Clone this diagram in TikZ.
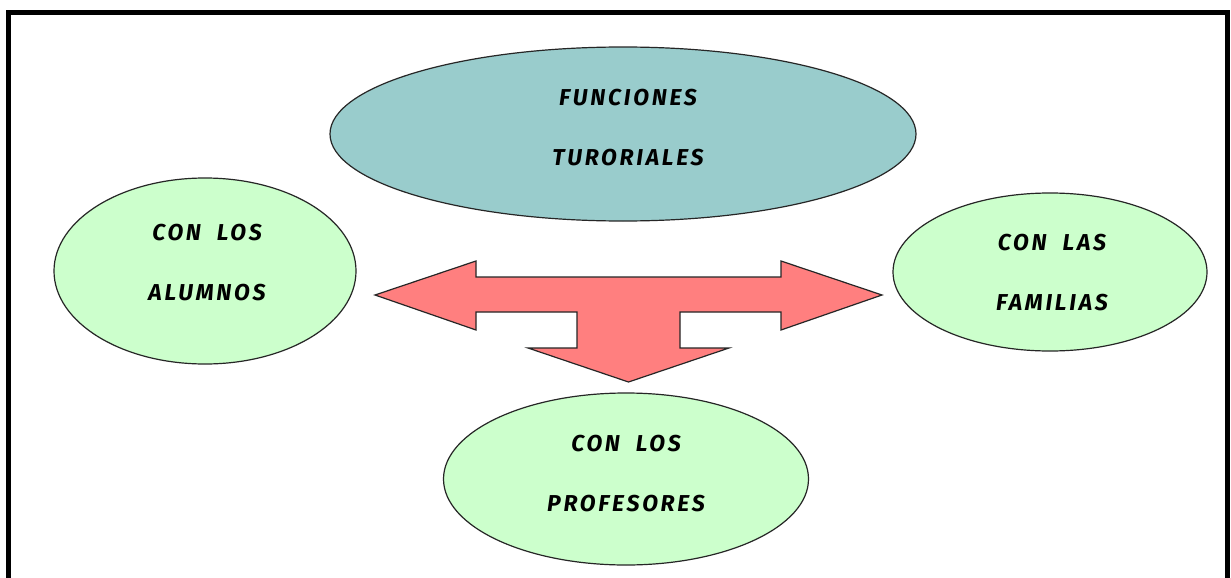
\documentclass[tikz,border=0pt]{standalone}
\usepackage{fontspec}
\setmainfont{Fira Sans}[LetterSpace=12,WordSpace=2]
\usetikzlibrary{shapes.geometric}
\definecolor{tealfill}{HTML}{99CCCC}
\definecolor{greenfill}{HTML}{CCFFCC}
\definecolor{redfill}{HTML}{FF7F7F}
\definecolor{edge}{HTML}{262626}
\tikzset{
  oval/.style={ellipse, draw=edge, line width=1.2pt, inner sep=0pt},
  lbl/.style={align=center, inner sep=0pt, text depth=0pt,
    font=\fontsize{23}{60}\selectfont\bfseries\itshape},
  frame/.style={line width=5pt, draw=black},
  bigarrow/.style={fill=redfill, draw=edge, line width=1.2pt, line join=miter}
}
\begin{document}
\begin{tikzpicture}[x=1pt,y=-1pt]
\useasboundingbox (0,0) rectangle (1231,578);
\fill[white] (0,0) rectangle (1231,578);
% frame (bottom edge is outside the picture)
\coordinate (f1) at (8.5,600);
\coordinate (f2) at (8.5,12.5);
\coordinate (f3) at (1227.5,12.5);
\coordinate (f4) at (1227.5,600);
\begin{scope}
\clip (0,0) rectangle (1231,578);
\draw[frame] (f1) -- (f2) -- (f3) -- (f4);
\end{scope}
% ellipses
\node[oval, fill=tealfill, minimum width=586pt, minimum height=174pt] (top) at (623,134) {};
\node[oval, fill=greenfill, minimum width=302pt, minimum height=186pt] (alumnos) at (205,271) {};
\node[oval, fill=greenfill, minimum width=314pt, minimum height=158pt] (familias) at (1050,272) {};
\node[oval, fill=greenfill, minimum width=365pt, minimum height=172pt] (profesores) at (626,479) {};
% labels
\node[lbl] (topt) at (628,127) {FUNCIONES\\TURORIALES};
\node[lbl] (alumnost) at (207,262) {CON LOS\\ALUMNOS};
\node[lbl] (familiast) at (1052,272) {CON LAS\\FAMILIAS};
\node[lbl] (profesorest) at (626,473) {CON LOS\\PROFESORES};
% three-way arrow
\draw[bigarrow] (375,295) -- (476,261) -- (476,277) -- (781,277) -- (781,261)
  -- (882,295) -- (781,330) -- (781,312) -- (680,312) -- (680,348) -- (729,348)
  -- (628.5,382) -- (528,348) -- (577,348) -- (577,312) -- (476,312) -- (476,330) -- cycle;
\end{tikzpicture}
\end{document}
